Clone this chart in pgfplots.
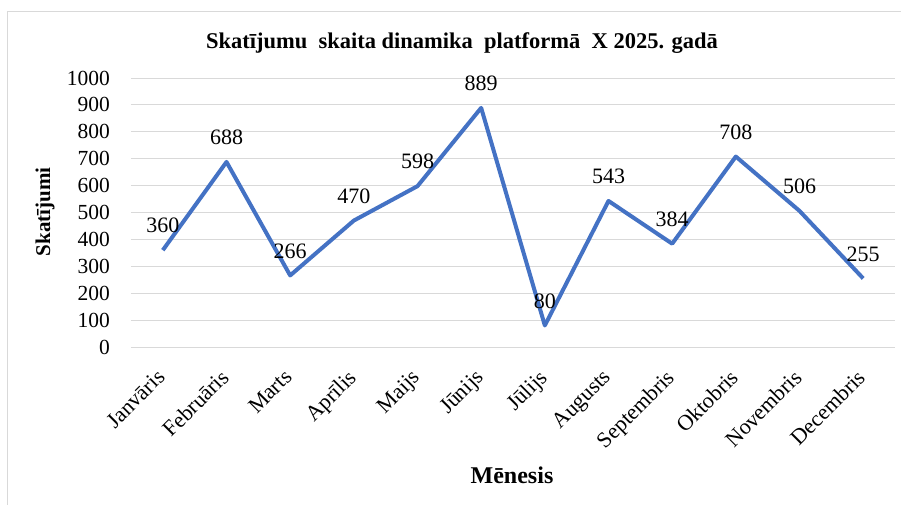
\documentclass[border=0pt]{standalone}
\usepackage{fontspec}
\setmainfont{Liberation Serif}
\usepackage{pgfplots}
\pgfplotsset{compat=1.18}
\definecolor{lineblue}{HTML}{4472C4}
\definecolor{gridgray}{HTML}{D9D9D9}
\begin{document}
\begin{tikzpicture}[x=1pt,y=1pt]
\useasboundingbox (-131,-157) rectangle (770,347);
\draw[gridgray, line width=1pt] (-123,-175) rectangle (790,335);
\begin{axis}[
  at={(0,0)}, anchor=south west,
  scale only axis, width=764pt, height=269pt,
  xmin=-0.5, xmax=11.5, ymin=0, ymax=1000,
  axis line style={draw=none},
  major tick length=0pt,
  ymajorgrids, grid style={gridgray, line width=1pt},
  ytick={0,100,...,1000},
  xtick={0,...,11},
  xticklabels={Janvāris,Februāris,Marts,Aprīlis,Maijs,Jūnijs,Jūlijs,Augusts,Septembris,Oktobris,Novembris,Decembris},
  /pgf/number format/assume math mode=true,
  /pgf/number format/1000 sep={},
  yticklabel style={font=\fontsize{21.5}{24}\selectfont, anchor=east, inner sep=0pt, xshift=-21pt},
  xticklabel style={font=\fontsize{22}{24}\selectfont, xshift=-7pt, yshift=-21pt, rotate=45, anchor=north east, inner sep=0pt},
  nodes near coords,
  every node near coord/.append style={font=\fontsize{22}{24}\selectfont, anchor=south, inner sep=0pt, yshift=15pt, text=black},
  clip=false,
]
\addplot[lineblue, line width=4pt, line join=round, no marks] coordinates {
(0,360) (1,688) (2,266) (3,470) (4,598) (5,889) (6,80) (7,543) (8,384) (9,708) (10,506) (11,255)
};
\end{axis}
\node[font=\fontsize{22.5}{24}\selectfont\bfseries] at (331,304) {Skatījumu\ \ skaita dinamika\ \ platformā\ \ X 2025. gadā};
\node[font=\fontsize{21}{24}\selectfont\bfseries, rotate=90] at (-86,135) {Skatījumi};
\node[font=\fontsize{24}{26}\selectfont\bfseries] at (381,-128) {Mēnesis};
\end{tikzpicture}
\end{document}
